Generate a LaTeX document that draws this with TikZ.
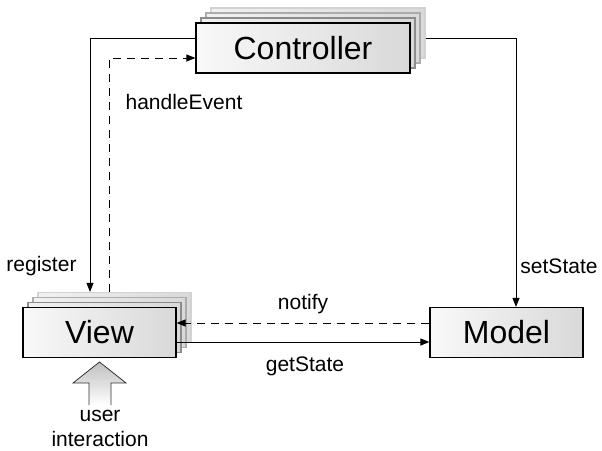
\documentclass[tikz,border=0pt]{standalone}
\usepackage{fontspec}
\setmainfont{Liberation Sans}
\usetikzlibrary{arrows.meta}

\tikzset{
  box/.style={draw=black, line width=1.2pt, left color=gray!5, right color=gray!30,
              minimum height=50pt, inner sep=0pt, font=\fontsize{32}{38}\selectfont},
  layer/.style={draw=#1, line width=1.2pt, left color=gray!10, right color=gray!30,
                minimum height=50pt, inner sep=0pt},
  lbl/.style={font=\fontsize{21}{25}\selectfont, inner sep=0pt},
  conn/.style={line width=1pt, -{Triangle[length=9pt,width=7pt]}},
  dashconn/.style={conn, dash pattern=on 8pt off 6pt},
}

\begin{document}
\begin{tikzpicture}[x=1pt, y=-1pt]
  \useasboundingbox (0,0) rectangle (602,450);

  % stacked copies behind controller and view
  \foreach \k/\c in {3/gray!35, 2/gray!65, 1/gray!90}{
    \node[layer=\c, minimum width=214pt] (ctrl\k) at (303+5*\k, 48-5*\k) {};
    \node[layer=\c, minimum width=153pt] (view\k) at (99.5+5*\k, 332.5-5*\k) {};
  }
  \node[box, minimum width=214pt] (ctrl) at (303,48) {Controller};
  \node[box, minimum width=153pt] (view) at (99.5,332.5) {View};
  \node[box, minimum width=153pt] (model) at (506.5,332.5) {Model};

  % connectors
  \draw[conn] ([yshift=10pt]ctrl.west) -| ([xshift=-24.5pt]view3.north);
  \draw[dashconn] ([xshift=-5.5pt]view3.north) |- ([yshift=-10pt]ctrl.west);
  \draw[conn] ([yshift=-5pt]ctrl3.east) -| ([xshift=9.5pt]model.north);
  \draw[dashconn] ([yshift=9.5pt]model.west) -- ([yshift=9.5pt]view.east);
  \draw[conn] ([yshift=-9.5pt]view.east) -- ([yshift=-9.5pt]model.west);

  % user interaction arrow
  \path[top color=gray!50, bottom color=white]
    (99.5,362) -- (126,383) -- (111,383) -- (111,405) -- (89,405) -- (89,383) -- (73,383) -- cycle;
  \draw[gray!40!black, line width=0.8pt]
    (111,405) -- (111,383) -- (126,383) -- (99.5,362) -- (73,383) -- (89,383) -- (89,405);

  %labels
  \node[lbl] (reglbl) at (41.5,266) {register};
  \node[lbl] (hdllbl) at (184,102) {handleEvent};
  \node[lbl] (setlbl) at (559,266) {setState};
  \node[lbl] (notlbl) at (303,304) {notify};
  \node[lbl] (getlbl) at (305,366) {getState};
  \node[lbl, align=center] (usrlbl) at (100,428) {user\\interaction};
\end{tikzpicture}
\end{document}
